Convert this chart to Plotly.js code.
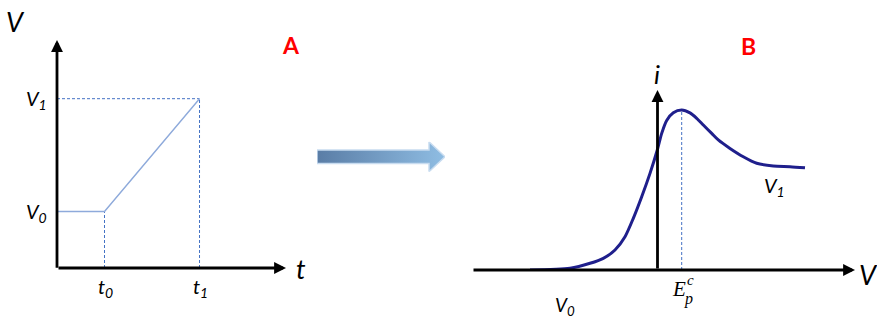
<!DOCTYPE html>
<html>
<head>
<meta charset="utf-8">
<script src="https://cdn.plot.ly/plotly-3.0.1.min.js"></script>
<style>html,body{margin:0;padding:0;background:#fff;}#chart{width:877px;height:320px;}</style>
</head>
<body>
<div id="chart"></div>
<script>
// ---- Panel A: potential sweep V(t) ----
const sweepT = [0, 1, 3];          // t: start, t0, t1
const sweepV = [1, 1, 3];          // V: V0 held, then ramp to V1
const tTickVals = [1, 3];
const tTickText = ['t', 't'];
const tTickSub = ['0', '1'];
const vTickVals = [1, 3];
const vTickSub = ['0', '1'];

// ---- Panel B: linear sweep voltammogram i(V) ----
const curveV = [-1.275, -0.875, -0.675, -0.542, -0.425, -0.325, -0.242, -0.158, -0.075, -0.002, 0.042,
                0.092, 0.158, 0.242, 0.325, 0.392, 0.458, 0.542, 0.608, 0.725, 0.858, 0.992, 1.158, 1.325, 1.475];
const curveI = [0, 0.011, 0.042, 0.073, 0.125, 0.208, 0.323, 0.458, 0.604, 0.750, 0.854,
                0.935, 0.983, 1.0, 0.982, 0.948, 0.906, 0.854, 0.813, 0.760, 0.708, 0.667, 0.65, 0.646, 0.639];
const peakV = 0.242;
const peakI = 1.0;
const bLabelV0 = -0.93;
const bLabelV1 = 1.17;
const bLabelV1i = 0.52;

// ---- central block arrow outline ----
const arrowX = [0, 112, 112, 128, 112, 112, 0, 0];
const arrowY = [6.7, 6.7, 15, 0, -15, -6.7, -6.7, 6.7];

const W = 877, H = 320;
const px = v => v / W;
const py = v => 1 - v / H;

const axisBlack = '#000000';
const dashBlue = '#4472c4';
const rampBlue = '#8eaadb';
const curveNavy = '#1f1f8c';
const labelFont = 'Lato, "Open Sans", sans-serif';
const serifFont = '"Liberation Serif", "DejaVu Serif", serif';

const A_tMax = 4.82, A_vMax = 4.04;
const B_vMin = -1.855, B_vMax = 1.975, B_iMax = 1.125;

const traces = [
  // A: dashed guides
  {x: [0, sweepT[2]], y: [sweepV[2], sweepV[2]], xaxis: 'x', yaxis: 'y', mode: 'lines',
   line: {color: dashBlue, width: 1, dash: '3px,2px'}, cliponaxis: false, hoverinfo: 'skip'},
  {x: [sweepT[2], sweepT[2]], y: [0, sweepV[2]], xaxis: 'x', yaxis: 'y', mode: 'lines',
   line: {color: dashBlue, width: 1, dash: '3px,2px'}, cliponaxis: false, hoverinfo: 'skip'},
  {x: [sweepT[1], sweepT[1]], y: [0, sweepV[1]], xaxis: 'x', yaxis: 'y', mode: 'lines',
   line: {color: dashBlue, width: 1, dash: '3px,2px'}, cliponaxis: false, hoverinfo: 'skip'},
  // A: sweep line
  {x: sweepT, y: sweepV, xaxis: 'x', yaxis: 'y', mode: 'lines',
   line: {color: rampBlue, width: 1.4}, cliponaxis: false, hoverinfo: 'skip'},
  // Central arrow
  {x: arrowX, y: arrowY, xaxis: 'x3', yaxis: 'y3', mode: 'lines', fill: 'toself',
   fillgradient: {type: 'horizontal', colorscale: [[0, '#5a7da6'], [1, '#8fbde3']]},
   line: {color: '#c8dcf0', width: 1.5}, cliponaxis: false, hoverinfo: 'skip'},
  // B: peak dashed line
  {x: [peakV, peakV], y: [0, peakI], xaxis: 'x2', yaxis: 'y2', mode: 'lines',
   line: {color: dashBlue, width: 1, dash: '3px,2px'}, cliponaxis: false, hoverinfo: 'skip'},
  // B: curve
  {x: curveV, y: curveI, xaxis: 'x2', yaxis: 'y2', mode: 'lines',
   line: {color: curveNavy, width: 3, shape: 'spline', smoothing: 0.7}, cliponaxis: false, hoverinfo: 'skip'}
];

function arrowAnn(xr, yr, x0, y0, x1, y1) {
  return {xref: xr, yref: yr, axref: xr, ayref: yr, x: x1, y: y1, ax: x0, ay: y0,
          text: '', showarrow: true, arrowhead: 2, arrowsize: 0.85, arrowwidth: 2.8,
          arrowcolor: axisBlack, standoff: 0, startstandoff: 0};
}

const annotations = [
  // A axes
  arrowAnn('x', 'y', 0, 0, A_tMax, 0),
  arrowAnn('x', 'y', 0, -0.02, 0, A_vMax),
  // B axes
  arrowAnn('x2', 'y2', B_vMin, 0, B_vMax, 0),
  arrowAnn('x2', 'y2', 0, 0, 0, B_iMax),
  // A labels
  {xref: 'paper', yref: 'paper', x: px(15), y: py(22), text: '<i>V</i>', showarrow: false,
   font: {family: labelFont, size: 27, color: '#000'}, xanchor: 'center', yanchor: 'middle'},
  {xref: 'paper', yref: 'paper', x: px(301), y: py(268), text: '<i>t</i>', showarrow: false,
   font: {family: labelFont, size: 27, color: '#000'}, xanchor: 'center', yanchor: 'middle'},
  {xref: 'paper', yref: 'paper', x: px(291), y: py(45), text: '<b>A</b>', showarrow: false,
   font: {family: labelFont, size: 23, color: '#ff0000'}, xanchor: 'center', yanchor: 'middle'},
  // B labels
  {xref: 'paper', yref: 'paper', x: px(657), y: py(74), text: '<i>i</i>', showarrow: false,
   font: {family: labelFont, size: 26, color: '#000'}, xanchor: 'center', yanchor: 'middle'},
  {xref: 'paper', yref: 'paper', x: px(868), y: py(274), text: '<i>V</i>', showarrow: false,
   font: {family: labelFont, size: 27, color: '#000'}, xanchor: 'center', yanchor: 'middle'},
  {xref: 'paper', yref: 'paper', x: px(748), y: py(46), text: '<b>B</b>', showarrow: false,
   font: {family: labelFont, size: 23, color: '#ff0000'}, xanchor: 'center', yanchor: 'middle'},
  // B: Ep^c
  {xref: 'x2', yref: 'y2', x: peakV, y: 0, xshift: -3, yshift: -19, text: '<i>E</i>', showarrow: false,
   font: {family: serifFont, size: 21, color: '#000'}, xanchor: 'center', yanchor: 'middle'},
  {xref: 'x2', yref: 'y2', x: peakV, y: 0, xshift: 9, yshift: -10, text: '<i>c</i>', showarrow: false,
   font: {family: serifFont, size: 15, color: '#000'}, xanchor: 'center', yanchor: 'middle'},
  {xref: 'x2', yref: 'y2', x: peakV, y: 0, xshift: 7, yshift: -29, text: '<i>p</i>', showarrow: false,
   font: {family: serifFont, size: 16, color: '#000'}, xanchor: 'center', yanchor: 'middle'},
  // B: V0, V1
  {xref: 'x2', yref: 'y2', x: bLabelV0, y: 0, yshift: -36, text: '<i>V<sub>0</sub></i>', showarrow: false,
   font: {family: labelFont, size: 19, color: '#000'}, xanchor: 'center', yanchor: 'middle'},
  {xref: 'x2', yref: 'y2', x: bLabelV1, y: bLabelV1i, text: '<i>V<sub>1</sub></i>', showarrow: false,
   font: {family: labelFont, size: 20, color: '#000'}, xanchor: 'center', yanchor: 'middle'}
];

// A tick labels
vTickVals.forEach((v, k) => {
  annotations.push({xref: 'x', yref: 'y', x: 0, y: v, xshift: -8, yshift: -1,
    text: '<i>V<sub>' + vTickSub[k] + '</sub></i>', showarrow: false,
    font: {family: labelFont, size: 20, color: '#000'}, xanchor: 'right', yanchor: 'middle'});
});
tTickVals.forEach((t, k) => {
  annotations.push({xref: 'x', yref: 'y', x: t, y: 0, xshift: 1, yshift: -19,
    text: '<i>' + tTickText[k] + '<sub>' + tTickSub[k] + '</sub></i>', showarrow: false,
    font: {family: labelFont, size: 20, color: '#000'}, xanchor: 'center', yanchor: 'middle'});
});

const hidden = {visible: false, showgrid: false, zeroline: false, fixedrange: true};

const layout = {
  width: W, height: H,
  margin: {l: 0, r: 0, t: 0, b: 0},
  paper_bgcolor: '#ffffff', plot_bgcolor: 'rgba(0,0,0,0)',
  showlegend: false,
  xaxis: Object.assign({}, hidden, {domain: [px(57), px(286)], range: [0, A_tMax], anchor: 'y'}),
  yaxis: Object.assign({}, hidden, {domain: [52 / H, 280 / H], range: [0, A_vMax], anchor: 'x'}),
  xaxis2: Object.assign({}, hidden, {domain: [px(472), px(855)], range: [B_vMin, B_vMax], anchor: 'y2'}),
  yaxis2: Object.assign({}, hidden, {domain: [50 / H, 230 / H], range: [0, B_iMax], anchor: 'x2'}),
  xaxis3: Object.assign({}, hidden, {domain: [px(317), px(445)], range: [0, 128], anchor: 'y3'}),
  yaxis3: Object.assign({}, hidden, {domain: [py(171.7), py(141.7)], range: [-15, 15], anchor: 'x3'}),
  annotations: annotations
};

Plotly.newPlot('chart', traces, layout, {staticPlot: true, displayModeBar: false});
</script>
</body>
</html>
